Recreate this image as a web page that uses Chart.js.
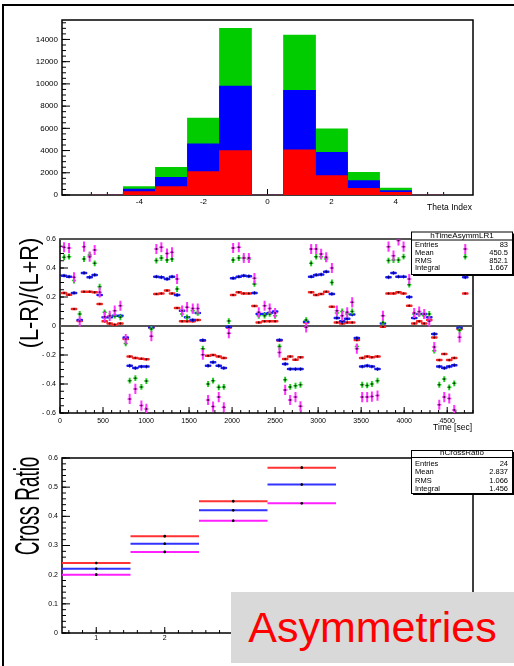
<!DOCTYPE html>
<html>
<head>
<meta charset="UTF-8">
<title>Asymmetries</title>
<script src="https://cdn.jsdelivr.net/npm/chart.js"></script>
<style>
  body { margin: 0; background: #fff; width: 514px; height: 666px; overflow: hidden; position: relative;
         font-family: "Liberation Sans", Arial, sans-serif; }
  canvas { position: absolute; left: 0; }
  #frame { position: absolute; left: 2px; top: 4px; width: 530px; height: 700px;
           border-top: 2px solid #000; border-left: 2px solid #000; }
  .ytitle { position: absolute; white-space: nowrap; line-height: 1; color: #000; }
  #tag { position: absolute; left: 231px; top: 592px; width: 283px; height: 71px; background: #d9d9d9;
         color: #ff0000; font-size: 43px; line-height: 71px; text-align: center; }
</style>
</head>
<body>
<div id="frame"></div>
<canvas id="theta" width="514" height="220" style="top:0"></canvas>
<canvas id="asym" width="514" height="220" style="top:220px"></canvas>
<canvas id="cross" width="514" height="226" style="top:440px"></canvas>
<div class="ytitle" style="left:29px;top:293px;font-size:25px;transform:translate(-50%,-50%) rotate(-90deg) scaleX(0.87)">(L-R)/(L+R)</div>
<div class="ytitle" style="left:25.5px;top:506px;font-size:35px;transform:translate(-50%,-50%) rotate(-90deg) scaleX(0.54)">Cross Ratio</div>
<div id="tag">Asymmetries</div>
<script>
// ---- top panel: theta index histograms (overlaid totals)
const thetaBins  = [-5, -4, -3, -2, -1, 0, 1, 2, 3, 4, 5];
const thetaGreen = [0, 750, 2490, 6920, 14990, 0, 14390, 5960, 2040, 630, 0];
const thetaBlue  = [0, 540, 1590, 4610, 9810, 0, 9420, 3850, 1290, 390, 0];
const thetaRed   = [0, 300, 750, 2100, 4000, 0, 4060, 1740, 600, 235, 0];
const thetaTicks = [-4, -2, 0, 2, 4];
const countTicks = [0, 2000, 4000, 6000, 8000, 10000, 12000, 14000];

// ---- middle panel: (L-R)/(L+R) vs time
const asymTimes = [
  47, 105, 163, 229, 279, 345, 403, 461, 519, 578, 636, 702, 764, 810, 876, 946, 1004, 1062,
  1120, 1178, 1244, 1302, 1361, 1419, 1477, 1543, 1601, 1660, 1721, 1779, 1845, 1904, 1962,
  2012, 2078, 2136, 2195, 2260, 2310, 2378, 2437, 2500, 2551, 2617, 2675, 2737, 2795, 2861,
  2919, 2977, 3035, 3094, 3160, 3218, 3280, 3338, 3396, 3450, 3512, 3570, 3625, 3690, 3753,
  3818, 3876, 3934, 3993, 4059, 4117, 4175, 4233, 4292, 4350, 4408, 4466, 4524, 4582, 4644, 4710];
const asymMagenta = [
  .543, .538, .336, .032, .547, .478, .524, .232, .064, .070, .106, .140, -.090, -.503, -.434, -.549, -.572, -.070,
  .531, .543, .500, .508, .324, .106, .130, .120, .120, -.198, -.510, -.556, -.490, -.560, -.050,
  .538, .543, .469, .469, .330, .094, .140, .120, .090, -.182, -.441, -.510, -.490, -.554, -.009,
  .531, .531, .497, .474, .400, .106, .071, .094, .163, -.157, -.490, -.490, -.487, -.480, .071,
  .547, .485, .590, .547, .324, .090, .100, .083, .032, -.145, -.543, -.490, -.500, -.580, -.078, .531];
const asymGreen = [
  .474, .478, .313, .083, .462, .490, .432, .271, .094, .070, .071, .060, -.120, -.377, -.360, -.420, -.380, -.020,
  .451, .469, .455, .462, .255, .083, .060, .106, .090, -.157, -.400, -.377, -.423, -.420, .034,
  .455, .469, .469, .462, .290, .070, .071, .083, .070, -.142, -.370, -.420, -.412, -.405, .041,
  .432, .478, .478, .462, .300, .090, .100, .083, .100, -.142, -.405, -.410, -.400, -.377, .025,
  .451, .455, .455, .478, .285, .083, .083, .071, .083, -.170, -.405, -.366, -.423, -.395, -.030, .478];
const asymBlue = [
  .347, .340, .228, .041, .366, .336, .352, .214, .060, .060, .071, .071, -.080, -.274, -.290, -.280, -.280, -.010,
  .340, .336, .324, .340, .214, .106, .060, .041, .090, -.098, -.274, -.250, -.274, -.290, -.007,
  .330, .340, .347, .343, .228, .083, .083, .090, .100, -.097, -.262, -.297, -.297, -.297, .030,
  .340, .352, .355, .375, .221, .056, .032, .050, .079, -.083, -.280, -.274, -.280, -.297, .018,
  .336, .366, .340, .340, .200, .056, .083, .083, .060, -.055, -.280, -.290, -.280, -.270, -.012, .336];
const asymRed = [
  .228, .216, .117, .035, .237, .237, .232, .152, .032, .018, .009, .018, -.090, -.210, -.220, -.225, -.230, -.010,
  .221, .225, .244, .225, .124, .032, .032, .032, .041, -.100, -.206, -.200, -.210, -.220, -.010,
  .214, .232, .225, .225, .138, .025, .032, .032, .032, -.100, -.228, -.210, -.232, -.216, .025,
  .232, .214, .221, .237, .133, .025, .018, .025, .025, -.097, -.220, -.210, -.216, -.210, -.005,
  .225, .225, .232, .225, .140, .018, .032, .018, .041, -.080, -.235, -.193, -.235, -.220, -.020, .225];
const timeErr = 25;
const errMagenta = 0.035, errGreen = 0.02, errBlue = 0.008, errRed = 0.004;
const timeTicks = [0, 500, 1000, 1500, 2000, 2500, 3000, 3500, 4000, 4500];
const asymTicks = [-0.6, -0.4, -0.2, 0, 0.2, 0.4, 0.6];

// ---- bottom panel: cross ratio per bin
const crossBins    = [1, 2, 3, 4];
const crossRed     = [0.240, 0.332, 0.452, 0.567];
const crossBlue    = [0.220, 0.306, 0.421, 0.509];
const crossMagenta = [0.200, 0.278, 0.385, 0.445];
const crossErr = 0.004;
const crossXTicks = [1, 2, 3, 4, 5, 6];
const crossYTicks = [0, 0.1, 0.2, 0.3, 0.4, 0.5, 0.6];

// stats boxes
const statNames  = ['Entries', 'Mean', 'RMS', 'Integral'];
const asymStats  = ['83', '450.5', '852.1', '1.667'];
const crossStats = ['24', '2.837', '1.066', '1.456'];

const FONT = '"Liberation Sans", Arial, sans-serif';

function eachStep(scale, step, fn) {
  const n0 = Math.ceil(scale.min / step - 1e-6), n1 = Math.floor(scale.max / step + 1e-6);
  for (let n = n0; n <= n1; n++) fn(scale.getPixelForValue(n * step));
}

function fmt(v, gap) {
  const s = String(Math.round(Math.abs(v) * 1000) / 1000);
  return v < 0 ? '-' + gap + s : s;
}

// ROOT-like frame, inward ticks, labels and stat box
const rootAxes = {
  id: 'rootAxes',
  beforeDatasetsDraw(chart, args, o) {
    const { ctx, chartArea: a, scales: { x, y } } = chart;
    ctx.save();
    ctx.strokeStyle = '#000';
    ctx.lineWidth = 1;
    ctx.beginPath();
    eachStep(x, o.xMinor, p => { ctx.moveTo(p, a.bottom); ctx.lineTo(p, a.bottom - 3); });
    eachStep(x, o.xMajor, p => { ctx.moveTo(p, a.bottom); ctx.lineTo(p, a.bottom - 6); });
    eachStep(y, o.yMinor, p => { ctx.moveTo(a.left, p); ctx.lineTo(a.left + 4, p); });
    eachStep(y, o.yMajor, p => { ctx.moveTo(a.left, p); ctx.lineTo(a.left + 8, p); });
    ctx.stroke();

    ctx.lineWidth = 1.5;
    ctx.strokeRect(a.left, a.top, a.right - a.left, a.bottom - a.top);
    if (o.zeroLine) {
      ctx.strokeStyle = '#555';
      ctx.lineWidth = 2;
      ctx.beginPath();
      ctx.moveTo(a.left, a.top); ctx.lineTo(a.right, a.top);
      const z = y.getPixelForValue(0);
      ctx.moveTo(a.left, z); ctx.lineTo(a.right, z);
      ctx.stroke();
    }

    ctx.fillStyle = '#000';
    ctx.font = o.fontSize + 'px ' + FONT;
    ctx.textAlign = 'center';
    ctx.textBaseline = 'middle';
    o.xTicks.forEach(v => ctx.fillText(fmt(v, o.minusGap), x.getPixelForValue(v), a.bottom + o.xLabelGap));
    ctx.textAlign = 'right';
    o.yTicks.forEach(v => ctx.fillText(fmt(v, o.minusGap), a.left - 4, y.getPixelForValue(v)));
    if (o.xTitle) {
      ctx.font = '8.5px ' + FONT;
      ctx.fillText(o.xTitle, a.right - 1, a.bottom + o.xTitleGap);
    }

    if (o.stats) {
      const s = o.stats;
      ctx.fillStyle = '#fff';
      ctx.fillRect(s.left, s.top, s.right - s.left, s.bottom - s.top);
      ctx.strokeStyle = '#000';
      ctx.lineWidth = 1;
      ctx.strokeRect(s.left + 0.5, s.top + 0.5, s.right - s.left - 1, s.bottom - s.top - 1);
      ctx.lineWidth = 2;
      ctx.beginPath();
      ctx.moveTo(s.left + 2, s.bottom); ctx.lineTo(s.right, s.bottom); ctx.lineTo(s.right, s.top + 2);
      ctx.stroke();
      ctx.lineWidth = 1;
      ctx.beginPath();
      ctx.moveTo(s.left, s.sep + 0.5); ctx.lineTo(s.right, s.sep + 0.5);
      ctx.stroke();
      ctx.fillStyle = '#000';
      ctx.font = '8px ' + FONT;
      ctx.textAlign = 'center';
      ctx.fillText(s.title, (s.left + s.right) / 2, s.titleY);
      ctx.font = '7.5px ' + FONT;
      s.rows.forEach((ry, i) => {
        ctx.textAlign = 'left';
        ctx.fillText(statNames[i], s.left + 4, ry);
        ctx.textAlign = 'right';
        ctx.fillText(s.values[i], s.right - 5, ry);
      });
    }
    ctx.restore();
  }
};

// error bars drawn just before each dataset's own markers
const errorBars = {
  id: 'errorBars',
  beforeDatasetDraw(chart, args) {
    const ds = chart.data.datasets[args.index];
    if (ds.errX === undefined) return;
    const { ctx, chartArea: a, scales: { x, y } } = chart;
    ctx.save();
    ctx.beginPath();
    ctx.rect(a.left, a.top, a.right - a.left, a.bottom - a.top);
    ctx.clip();
    ctx.lineCap = ds.errCap || 'butt';
    ctx.lineWidth = ds.errXWidth;
    ctx.strokeStyle = ds.errXColor;
    ctx.beginPath();
    ds.data.forEach(p => {
      const py = y.getPixelForValue(p.y);
      ctx.moveTo(x.getPixelForValue(p.x - ds.errX), py);
      ctx.lineTo(x.getPixelForValue(p.x + ds.errX), py);
    });
    ctx.stroke();
    ctx.lineWidth = ds.errYWidth;
    ctx.strokeStyle = ds.errYColor;
    ctx.beginPath();
    ds.data.forEach(p => {
      const px = x.getPixelForValue(p.x);
      ctx.moveTo(px, y.getPixelForValue(p.y - ds.errY));
      ctx.lineTo(px, y.getPixelForValue(p.y + ds.errY));
    });
    ctx.stroke();
    ctx.restore();
  }
};

const pts = (xs, ys) => xs.map((v, i) => ({ x: v, y: ys[i] }));
const base = {
  responsive: false,
  animation: false,
  events: [],
  plugins: { legend: { display: false }, tooltip: { enabled: false } }
};

// top: histogram
new Chart(document.getElementById('theta'), {
  type: 'bar',
  data: {
    datasets: [
      { data: pts(thetaBins, thetaRed), backgroundColor: '#ff0000' },
      { data: pts(thetaBins, thetaBlue), backgroundColor: '#0000ff' },
      { data: pts(thetaBins, thetaGreen), backgroundColor: '#00cc00' }
    ].map(d => Object.assign(d, { grouped: false, barPercentage: 1, categoryPercentage: 1, borderWidth: 0 }))
  },
  options: Object.assign({}, base, {
    layout: { padding: { left: 62, right: 41, top: 20, bottom: 25 } },
    scales: {
      x: { type: 'linear', min: -5.5, max: 5.5, display: false },
      y: { min: 0, max: 15750, display: false }
    },
    plugins: Object.assign({}, base.plugins, {
      rootAxes: { xMajor: 2, xMinor: 0.5, yMajor: 2000, yMinor: 500, xTicks: thetaTicks, yTicks: countTicks,
                  fontSize: 8, xLabelGap: 7, minusGap: '', xTitle: 'Theta Index', xTitleGap: 13 }
    })
  }),
  plugins: [rootAxes]
});

// middle: asymmetry vs time
const asymSets = [
  { data: pts(asymTimes, asymMagenta), errY: errMagenta, errXColor: '#ff33ff', errYColor: '#ff33ff', errXWidth: 1.5, errYWidth: 2 },
  { data: pts(asymTimes, asymGreen), errY: errGreen, errXColor: '#22cc22', errYColor: '#22cc22', errXWidth: 1.5, errYWidth: 2 },
  { data: pts(asymTimes, asymBlue), errY: errBlue, errXColor: '#1a1aff', errYColor: '#1a1aff', errXWidth: 2.5, errYWidth: 1.5, errCap: 'round' },
  { data: pts(asymTimes, asymRed), errY: errRed, errXColor: '#ff2222', errYColor: '#ff2222', errXWidth: 2.5, errYWidth: 1.5, errCap: 'round' }
].map(d => Object.assign(d, { errX: timeErr, pointRadius: 1, pointBorderWidth: 0, pointBackgroundColor: 'rgba(0,0,0,0.75)' }));

new Chart(document.getElementById('asym'), {
  type: 'scatter',
  data: { datasets: asymSets },
  options: Object.assign({}, base, {
    layout: { padding: { left: 60, right: 41, top: 19, bottom: 27 } },
    scales: {
      x: { type: 'linear', min: 0, max: 4800, display: false },
      y: { min: -0.6, max: 0.6, display: false }
    },
    plugins: Object.assign({}, base.plugins, {
      rootAxes: { xMajor: 500, xMinor: 100, yMajor: 0.2, yMinor: 0.05, xTicks: timeTicks, yTicks: asymTicks,
                  fontSize: 7, xLabelGap: 8, minusGap: ' ', xTitle: 'Time [sec]', xTitleGap: 15, zeroLine: true,
                  stats: { left: 411, right: 513, top: 11.5, bottom: 55, sep: 19.5, title: 'hTimeAsymmLR1', titleY: 15.5,
                           rows: [25, 32.5, 40.5, 48.3], values: asymStats } }
    })
  }),
  plugins: [rootAxes, errorBars]
});

// bottom: cross ratio
const crossSets = [
  { data: pts(crossBins, crossRed), errXColor: '#ff3333' },
  { data: pts(crossBins, crossBlue), errXColor: '#3333ff' },
  { data: pts(crossBins, crossMagenta), errXColor: '#ff22ff' }
].map(d => Object.assign(d, { errX: 0.5, errY: crossErr, errXWidth: 2, errYWidth: 1, errYColor: '#000',
                              pointRadius: 1.3, pointBorderWidth: 0, pointBackgroundColor: '#000' }));

new Chart(document.getElementById('cross'), {
  type: 'scatter',
  data: { datasets: crossSets },
  options: Object.assign({}, base, {
    layout: { padding: { left: 62, right: 41, top: 18, bottom: 33 } },
    scales: {
      x: { type: 'linear', min: 0.5, max: 6.5, display: false },
      y: { min: 0, max: 0.6, display: false }
    },
    plugins: Object.assign({}, base.plugins, {
      rootAxes: { xMajor: 1, xMinor: 0.2, yMajor: 0.1, yMinor: 0.02, xTicks: crossXTicks, yTicks: crossYTicks,
                  fontSize: 7, xLabelGap: 5, minusGap: '',
                  stats: { left: 411, right: 513, top: 10, bottom: 54, sep: 17, title: 'hCrossRatio', titleY: 13,
                           rows: [23.5, 32, 40.5, 49], values: crossStats } }
    })
  }),
  plugins: [rootAxes, errorBars]
});
</script>
</body>
</html>
